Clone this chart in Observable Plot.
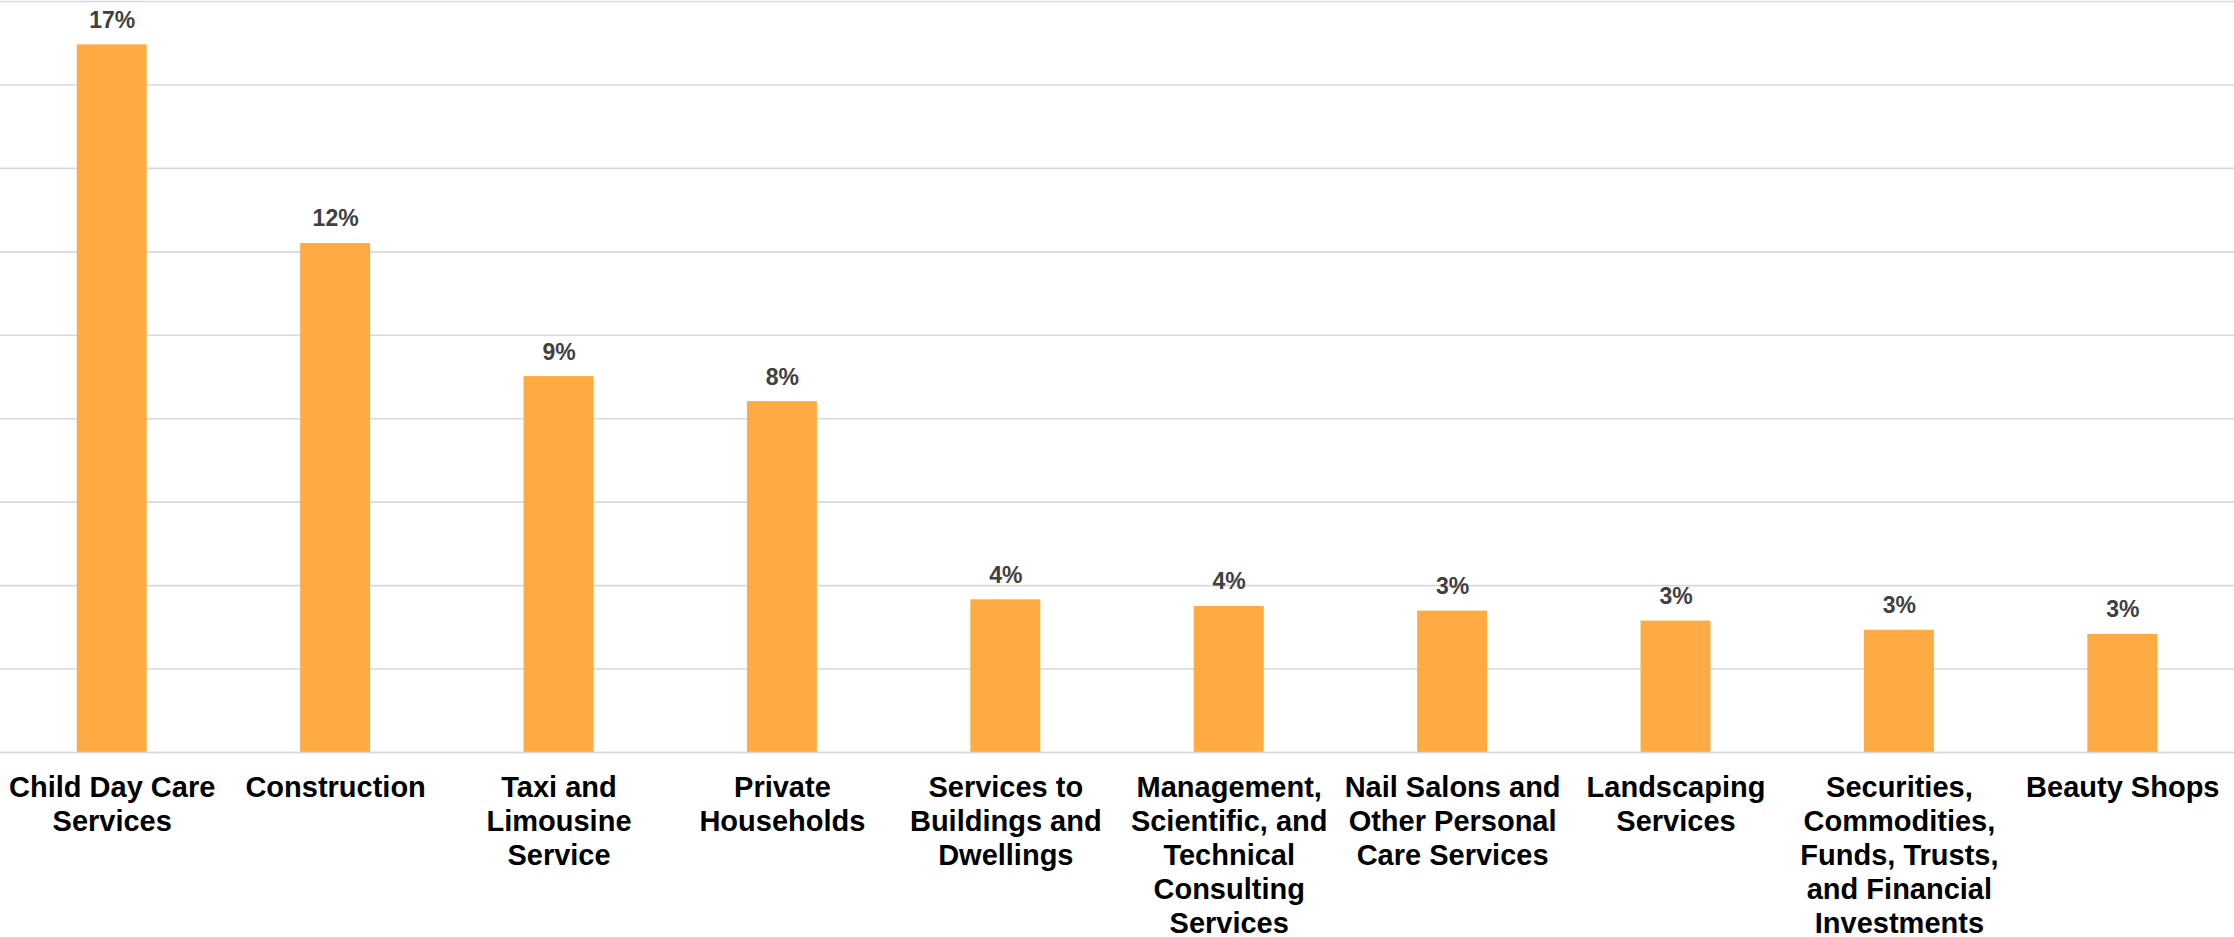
<!DOCTYPE html>
<html>
<head>
<meta charset="utf-8">
<script src="https://cdn.jsdelivr.net/npm/d3@7"></script>
<script src="https://cdn.jsdelivr.net/npm/@observablehq/plot@0.6"></script>
<style>
  html, body { margin: 0; padding: 0; background: #ffffff; }
  #chart { width: 2234px; height: 937px; overflow: hidden; }
</style>
</head>
<body>
<div id="chart"></div>
<script>
// Categories, with their wrapped tick labels
const categories = [
  "Child Day Care Services",
  "Construction",
  "Taxi and Limousine Service",
  "Private Households",
  "Services to Buildings and Dwellings",
  "Management, Scientific, and Technical Consulting Services",
  "Nail Salons and Other Personal Care Services",
  "Landscaping Services",
  "Securities, Commodities, Funds, Trusts, and Financial Investments",
  "Beauty Shops"
];
const tickLabels = [
  "Child Day Care\nServices",
  "Construction",
  "Taxi and\nLimousine\nService",
  "Private\nHouseholds",
  "Services to\nBuildings and\nDwellings",
  "Management,\nScientific, and\nTechnical\nConsulting\nServices",
  "Nail Salons and\nOther Personal\nCare Services",
  "Landscaping\nServices",
  "Securities,\nCommodities,\nFunds, Trusts,\nand Financial\nInvestments",
  "Beauty Shops"
];
// Share values (fractions)
const shares = [0.1696, 0.122, 0.0901, 0.0841, 0.0366, 0.0350, 0.0339, 0.0315, 0.0293, 0.0283];
// Data labels as printed on the chart
const valueLabels = ["17%", "12%", "9%", "8%", "4%", "4%", "3%", "3%", "3%", "3%"];
// Gridline values
const gridTicks = [0, 0.02, 0.04, 0.06, 0.08, 0.10, 0.12, 0.14, 0.16, 0.18];

const data = categories.map((c, i) => ({category: c, share: shares[i], label: valueLabels[i]}));
const tickLabelOf = new Map(categories.map((c, i) => [c, tickLabels[i]]));

const chart = Plot.plot({
  width: 2234,
  height: 937,
  marginTop: 1,
  marginRight: 0,
  marginLeft: 0,
  marginBottom: 185,
  style: {fontFamily: "'Liberation Sans', Arial, sans-serif", background: "#ffffff", overflow: "visible"},
  x: {domain: categories, paddingInner: 0.687, paddingOuter: 0.3435, round: false, label: null},
  y: {domain: [0, 0.18], label: null},
  marks: [
    Plot.gridY(gridTicks, {stroke: "#d9d9d9", strokeOpacity: 1, strokeWidth: 1.6}),
    Plot.barY(data, {x: "category", y: "share", fill: "#FFAA42"}),
    Plot.ruleY([0], {stroke: "#d9d9d9", strokeWidth: 1.6}),
    Plot.text(data, {
      x: "category", y: "share", text: "label", dy: -17,
      lineAnchor: "bottom", fontSize: 23, fontWeight: "bold", fill: "#404040"
    }),
    Plot.axisX({
      tickSize: 0, tickPadding: 20,
      tickFormat: (d) => tickLabelOf.get(d),
      fontSize: 29, fontWeight: "bold", fill: "#000000",
      lineHeight: 1.172, textOverflow: null, lineWidth: Infinity,
      label: null
    }),
    Plot.axisY({ticks: [], label: null, tickSize: 0})
  ]
});
document.getElementById("chart").appendChild(chart);
</script>
</body>
</html>
